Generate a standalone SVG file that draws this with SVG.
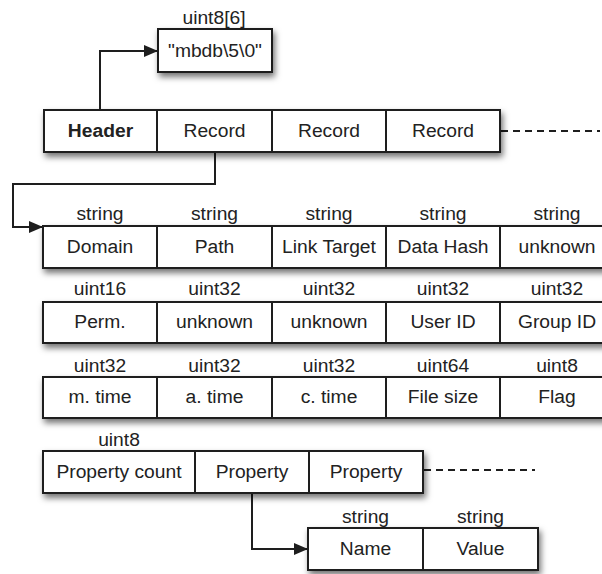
<svg xmlns="http://www.w3.org/2000/svg" width="602" height="574" viewBox="0 0 602 574">
<style>
.cell{fill:#fff;stroke:#1e1e1e;stroke-width:2}
.t{font-family:"Liberation Sans",Arial,sans-serif;font-size:18px;fill:#222;text-anchor:middle}
.b{font-weight:bold}
.con{fill:none;stroke:#1e1e1e;stroke-width:2}
.dash{fill:none;stroke:#1e1e1e;stroke-width:2;stroke-dasharray:7 5}
</style>
<defs>
<filter id="sh" x="-10%" y="-30%" width="120%" height="180%">
<feDropShadow dx="2" dy="4" stdDeviation="3" flood-color="#000" flood-opacity="0.55"/>
</filter>
<marker id="arr" markerWidth="14" markerHeight="12" refX="13" refY="6" orient="auto" markerUnits="userSpaceOnUse">
<path d="M0,0 L14,6 L0,12 Z" fill="#1e1e1e"/>
</marker>
</defs>
<rect width="602" height="574" fill="#fff"/>

<g id="connectors">
<path class="con" d="M100,110 V51 H157" marker-end="url(#arr)"/>
<path class="con" d="M215,152 V184 H13 V227 H42" marker-end="url(#arr)"/>
<path class="con" d="M252,493 V549 H307" marker-end="url(#arr)"/>
<line class="dash" x1="501" y1="131" x2="600" y2="131"/>
<line class="dash" x1="424" y1="470" x2="535" y2="470"/>
</g>

<g id="magic">
<rect class="cell" x="158" y="29" width="114" height="43" filter="url(#sh)"/>
<text class="t" transform="translate(214 24) scale(1.07 1)">uint8[6]</text>
<text class="t" transform="translate(215 57) scale(1.07 1)">"mbdb\5\0"</text>
</g>

<g id="file">
<rect class="cell" x="44" y="110" width="456" height="42" filter="url(#sh)"/>
<g id="header"><rect class="cell" x="44" y="110" width="113" height="42"/><text class="t b" transform="translate(100.5 137) scale(1.07 1)">Header</text></g>
<g id="record1"><rect class="cell" x="157" y="110" width="115" height="42"/><text class="t" transform="translate(214.5 137) scale(1.07 1)">Record</text></g>
<g id="record2"><rect class="cell" x="272" y="110" width="114" height="42"/><text class="t" transform="translate(329 137) scale(1.07 1)">Record</text></g>
<g id="record3"><rect class="cell" x="386" y="110" width="114" height="42"/><text class="t" transform="translate(443 137) scale(1.07 1)">Record</text></g>
</g>

<g id="row-strings">
<rect class="cell" x="43" y="226" width="571" height="42" filter="url(#sh)"/>
<g id="domain"><rect class="cell" x="43" y="226" width="114" height="42"/><text class="t" transform="translate(100 220) scale(1.07 1)">string</text><text class="t" transform="translate(100 253) scale(1.07 1)">Domain</text></g>
<g id="path"><rect class="cell" x="157" y="226" width="115" height="42"/><text class="t" transform="translate(214.5 220) scale(1.07 1)">string</text><text class="t" transform="translate(214.5 253) scale(1.07 1)">Path</text></g>
<g id="linktarget"><rect class="cell" x="272" y="226" width="114" height="42"/><text class="t" transform="translate(329 220) scale(1.07 1)">string</text><text class="t" transform="translate(329 253) scale(1.07 1)">Link Target</text></g>
<g id="datahash"><rect class="cell" x="386" y="226" width="114" height="42"/><text class="t" transform="translate(443 220) scale(1.07 1)">string</text><text class="t" transform="translate(443 253) scale(1.07 1)">Data Hash</text></g>
<g id="unknown1"><rect class="cell" x="500" y="226" width="114" height="42"/><text class="t" transform="translate(557 220) scale(1.07 1)">string</text><text class="t" transform="translate(557 253) scale(1.07 1)">unknown</text></g>
</g>

<g id="row-ids">
<rect class="cell" x="43" y="302" width="571" height="41" filter="url(#sh)"/>
<g id="perm"><rect class="cell" x="43" y="302" width="114" height="41"/><text class="t" transform="translate(100 295) scale(1.07 1)">uint16</text><text class="t" transform="translate(100 328) scale(1.07 1)">Perm.</text></g>
<g id="unknown2"><rect class="cell" x="157" y="302" width="115" height="41"/><text class="t" transform="translate(214.5 295) scale(1.07 1)">uint32</text><text class="t" transform="translate(214.5 328) scale(1.07 1)">unknown</text></g>
<g id="unknown3"><rect class="cell" x="272" y="302" width="114" height="41"/><text class="t" transform="translate(329 295) scale(1.07 1)">uint32</text><text class="t" transform="translate(329 328) scale(1.07 1)">unknown</text></g>
<g id="userid"><rect class="cell" x="386" y="302" width="114" height="41"/><text class="t" transform="translate(443 295) scale(1.07 1)">uint32</text><text class="t" transform="translate(443 328) scale(1.07 1)">User ID</text></g>
<g id="groupid"><rect class="cell" x="500" y="302" width="114" height="41"/><text class="t" transform="translate(557 295) scale(1.07 1)">uint32</text><text class="t" transform="translate(557 328) scale(1.07 1)">Group ID</text></g>
</g>

<g id="row-times">
<rect class="cell" x="43" y="377" width="571" height="41" filter="url(#sh)"/>
<g id="mtime"><rect class="cell" x="43" y="377" width="114" height="41"/><text class="t" transform="translate(100 372) scale(1.07 1)">uint32</text><text class="t" transform="translate(100 403) scale(1.07 1)">m. time</text></g>
<g id="atime"><rect class="cell" x="157" y="377" width="115" height="41"/><text class="t" transform="translate(214.5 372) scale(1.07 1)">uint32</text><text class="t" transform="translate(214.5 403) scale(1.07 1)">a. time</text></g>
<g id="ctime"><rect class="cell" x="272" y="377" width="114" height="41"/><text class="t" transform="translate(329 372) scale(1.07 1)">uint32</text><text class="t" transform="translate(329 403) scale(1.07 1)">c. time</text></g>
<g id="filesize"><rect class="cell" x="386" y="377" width="114" height="41"/><text class="t" transform="translate(443 372) scale(1.07 1)">uint64</text><text class="t" transform="translate(443 403) scale(1.07 1)">File size</text></g>
<g id="flag"><rect class="cell" x="500" y="377" width="114" height="41"/><text class="t" transform="translate(557 372) scale(1.07 1)">uint8</text><text class="t" transform="translate(557 403) scale(1.07 1)">Flag</text></g>
</g>

<g id="row-properties">
<rect class="cell" x="43" y="451" width="380" height="42" filter="url(#sh)"/>
<g id="propcount"><rect class="cell" x="43" y="451" width="152" height="42"/><text class="t" transform="translate(119 446) scale(1.07 1)">uint8</text><text class="t" transform="translate(119 478) scale(1.07 1)">Property count</text></g>
<g id="property1"><rect class="cell" x="195" y="451" width="114" height="42"/><text class="t" transform="translate(252 478) scale(1.07 1)">Property</text></g>
<g id="property2"><rect class="cell" x="309" y="451" width="114" height="42"/><text class="t" transform="translate(366 478) scale(1.07 1)">Property</text></g>
</g>

<g id="row-namevalue">
<rect class="cell" x="308" y="528" width="230" height="42" filter="url(#sh)"/>
<g id="name"><rect class="cell" x="308" y="528" width="115" height="42"/><text class="t" transform="translate(365.5 523) scale(1.07 1)">string</text><text class="t" transform="translate(365.5 555) scale(1.07 1)">Name</text></g>
<g id="value"><rect class="cell" x="423" y="528" width="115" height="42"/><text class="t" transform="translate(480.5 523) scale(1.07 1)">string</text><text class="t" transform="translate(480.5 555) scale(1.07 1)">Value</text></g>
</g>
</svg>
